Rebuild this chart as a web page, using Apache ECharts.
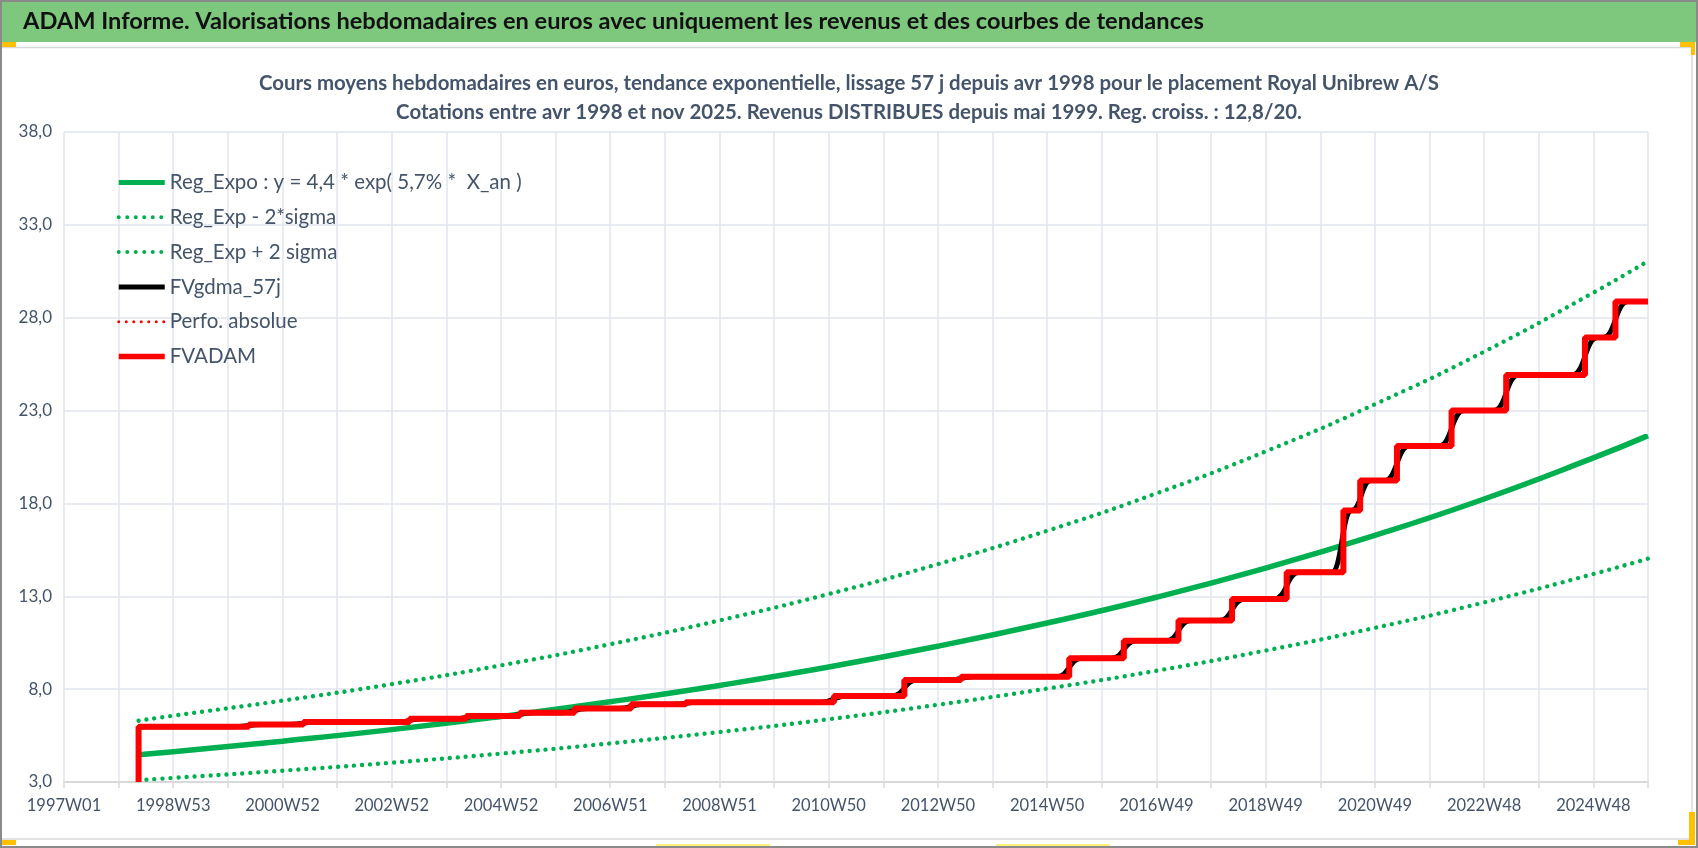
<!DOCTYPE html>
<html><head><meta charset="utf-8">
<script src="https://cdn.jsdelivr.net/npm/echarts/dist/echarts.min.js"></script>
<style>html,body{margin:0;padding:0;background:#fff;overflow:hidden}#c{width:1698px;height:848px}</style>
</head><body><div id="c"></div>
<script>
// ---- tick labels (every 104 weeks, index = weeks since 1997W01) ----
const xTickLabels = ['1997W01','1998W53','2000W52','2002W52','2004W52','2006W51','2008W51','2010W50','2012W50','2014W50','2016W49','2018W49','2020W49','2022W48','2024W48'];
const lastWeek = 1508;
const yTicks = [3, 8, 13, 18, 23, 28, 33, 38];

// ---- trend curves, read at anchor weeks ----
const trendWeeks = [71, 104, 208, 312, 416, 520, 624, 728, 832, 936, 1040, 1144, 1248, 1352, 1456, 1508];
const regExpo    = [4.47, 4.63, 5.2, 5.82, 6.53, 7.32, 8.2, 9.19, 10.31, 11.56, 12.95, 14.52, 16.28, 18.24, 20.45, 21.65];
const regExpLow  = [3.1, 3.22, 3.61, 4.04, 4.53, 5.08, 5.69, 6.38, 7.16, 8.03, 8.99, 10.08, 11.3, 12.67, 14.2, 15.03];
const regExpHigh = [6.3, 6.57, 7.38, 8.27, 9.28, 10.42, 11.7, 13.12, 14.73, 16.53, 18.54, 20.8, 23.34, 26.17, 29.35, 31.05];

// ---- FVADAM steps: week of change and level after change ----
const redBase = 3.0;
const redWeeks  = [71, 176, 228, 329, 383, 434, 486, 540, 592, 733, 800, 854, 957, 1009, 1061, 1112, 1164, 1218, 1234, 1269, 1321, 1373, 1448, 1477];
const redLevels = [5.98, 6.1, 6.23, 6.4, 6.55, 6.73, 6.96, 7.18, 7.3, 7.63, 8.49, 8.67, 9.66, 10.6, 11.69, 12.85, 14.29, 17.62, 19.23, 21.09, 23.0, 24.92, 26.93, 28.87];
// ---- FVgdma_57j: weeks where the smoothed curve leaves the old level and reaches the new one ----
const blackRampStart = [164, 216, 317, 371, 422, 474, 528, 580, 721, 788, 842, 945, 997, 1049, 1100, 1152, 1207, 1226, 1257, 1309, 1361, 1436, 1465];
const blackRampEnd   = [188, 240, 341, 395, 446, 498, 552, 604, 745, 812, 866, 969, 1021, 1073, 1124, 1176, 1226, 1244, 1281, 1333, 1385, 1460, 1489];

const perfoAbsolue = [];

function pairs(xs, ys) { return xs.map((x, i) => [x, ys[i]]); }
const redData = [[redWeeks[0], redBase]];
for (let i = 0; i < redWeeks.length; i++) {
  if (i > 0) redData.push([redWeeks[i], redLevels[i - 1]]);
  redData.push([redWeeks[i], redLevels[i]]);
}
redData.push([lastWeek, redLevels[redLevels.length - 1]]);

const blackData = [[redWeeks[0], redLevels[0]]];
for (let i = 1; i < redWeeks.length; i++) {
  blackData.push([blackRampStart[i - 1], redLevels[i - 1]]);
  blackData.push([blackRampEnd[i - 1], redLevels[i]]);
}
blackData.push([lastWeek, redLevels[redLevels.length - 1]]);

const FONT = 'Lato';
const TXT = '#44546A';
const GREEN = '#00B050';
const DOTS = [0.001, 8];
const hideSym = { opacity: 0, color: 'rgba(0,0,0,0)', borderWidth: 0 };

const chart = echarts.init(document.getElementById('c'), null, { renderer: 'canvas' });
chart.setOption({
  animation: false,
  backgroundColor: '#ffffff',
  textStyle: { fontFamily: FONT },
  grid: { left: 64, right: 50, top: 132, bottom: 66, containLabel: false, outerBoundsMode: 'none' },
  graphic: [
    { type: 'rect', z: -10, shape: { x: 0, y: 0, width: 1698, height: 42 }, style: { fill: '#7DC87D' } },
    { type: 'line', z: -9, shape: { x1: 0, y1: 47.5, x2: 1692, y2: 47.5 }, style: { stroke: '#d9d9d9', lineWidth: 1.5 } },
    { type: 'line', z: -9, shape: { x1: 1692, y1: 47, x2: 1692, y2: 839 }, style: { stroke: '#d9d9d9', lineWidth: 1.5 } },
    { type: 'line', z: -9, shape: { x1: 0, y1: 839, x2: 1692, y2: 839 }, style: { stroke: '#d9d9d9', lineWidth: 1.5 } },
    { type: 'rect', z: -8, shape: { x: 0, y: 42, width: 16, height: 5 }, style: { fill: '#FFC000' } },
    { type: 'rect', z: -8, shape: { x: 1680, y: 42, width: 15, height: 5 }, style: { fill: '#FFC000' } },
    { type: 'rect', z: -8, shape: { x: 1691, y: 42, width: 4, height: 13 }, style: { fill: '#FFC000' } },
    { type: 'rect', z: -8, shape: { x: 0, y: 840, width: 16, height: 5 }, style: { fill: '#FFC000' } },
    { type: 'rect', z: -8, shape: { x: 1678, y: 840, width: 17, height: 5 }, style: { fill: '#FFC000' } },
    { type: 'rect', z: -8, shape: { x: 1689, y: 812, width: 6, height: 33 }, style: { fill: '#FFC000' } },
    { type: 'line', z: -8, shape: { x1: 656, y1: 845, x2: 770, y2: 845 }, style: { stroke: '#FFF27A', lineWidth: 2 } },
    { type: 'line', z: -8, shape: { x1: 996, y1: 845, x2: 1110, y2: 845 }, style: { stroke: '#FFF27A', lineWidth: 2 } },
    { type: 'rect', z: 50, shape: { x: 1, y: 1, width: 1696, height: 846 }, style: { fill: 'none', stroke: '#8a8a8a', lineWidth: 2 } },
    { type: 'text', z: 20, left: 23, top: 9, style: { text: 'ADAM Informe. Valorisations hebdomadaires en euros avec uniquement les revenus et des courbes de tendances', font: 'bold 23.6px ' + FONT, fill: '#111111' } },
    { type: 'text', z: 20, left: 'center', top: 73, style: { text: 'Cours moyens hebdomadaires en euros, tendance exponentielle, lissage 57 j depuis avr 1998 pour le placement Royal Unibrew A/S', font: 'bold 20.4px ' + FONT, fill: TXT } },
    { type: 'text', z: 20, left: 'center', top: 102, style: { text: 'Cotations entre avr 1998 et nov 2025. Revenus DISTRIBUES depuis mai 1999. Reg. croiss. : 12,8/20.', font: 'bold 20.4px ' + FONT, fill: TXT } }
  ],
  legend: {
    orient: 'vertical', left: 111, top: 167,
    itemWidth: 46, itemHeight: 20, itemGap: 13.8,
    itemStyle: hideSym,
    textStyle: { fontFamily: FONT, fontSize: 20.5, color: TXT, lineHeight: 20 },
    data: [
      { name: 'Reg_Expo : y = 4,4 * exp( 5,7% *  X_an )', itemStyle: hideSym, lineStyle: { width: 5 } },
      { name: 'Reg_Exp - 2*sigma', itemStyle: hideSym, lineStyle: { width: 4, type: [0.001, 8.5], cap: 'round' } },
      { name: 'Reg_Exp + 2 sigma', itemStyle: hideSym, lineStyle: { width: 4, type: [0.001, 8.5], cap: 'round' } },
      { name: 'FVgdma_57j', itemStyle: hideSym, lineStyle: { width: 5 } },
      { name: 'Perfo. absolue', itemStyle: hideSym, lineStyle: { width: 3, type: [0.001, 7.5], cap: 'round' } },
      { name: 'FVADAM', itemStyle: hideSym, lineStyle: { width: 5.5 } }
    ]
  },
  xAxis: {
    type: 'value', min: 0, max: lastWeek, interval: 52,
    axisLine: { show: true, lineStyle: { color: '#d9d9d9', width: 2 } },
    axisTick: { show: true, length: 6, lineStyle: { color: '#d9d9d9', width: 1.5 } },
    splitLine: { show: true, lineStyle: { color: '#e1e4ec', width: 1.5 } },
    axisLabel: {
      margin: 15, fontFamily: FONT, fontSize: 16.5, color: TXT, showMinLabel: true, showMaxLabel: true, hideOverlap: false,
      formatter: v => (v % 104 === 0 && xTickLabels[v / 104]) ? xTickLabels[v / 104] : ''
    }
  },
  yAxis: {
    type: 'value', min: yTicks[0], max: yTicks[yTicks.length - 1], interval: 5,
    axisLine: { show: false }, axisTick: { show: false },
    splitLine: { show: true, lineStyle: { color: '#e1e4ec', width: 1.5 } },
    axisLabel: { margin: 12, fontFamily: FONT, fontSize: 17, color: TXT, formatter: v => v.toFixed(1).replace('.', ',') }
  },
  series: [
    { name: 'Reg_Expo : y = 4,4 * exp( 5,7% *  X_an )', type: 'line', data: pairs(trendWeeks, regExpo), smooth: true, symbol: 'none', z: 3,
      lineStyle: { color: GREEN, width: 5.5 }, itemStyle: { color: GREEN } },
    { name: 'Reg_Exp - 2*sigma', type: 'line', data: pairs(trendWeeks, regExpLow), smooth: true, symbol: 'none', z: 3,
      lineStyle: { color: GREEN, width: 4.4, type: DOTS, cap: 'round' }, itemStyle: { color: GREEN } },
    { name: 'Reg_Exp + 2 sigma', type: 'line', data: pairs(trendWeeks, regExpHigh), smooth: true, symbol: 'none', z: 3,
      lineStyle: { color: GREEN, width: 4.4, type: DOTS, cap: 'round' }, itemStyle: { color: GREEN } },
    { name: 'FVgdma_57j', type: 'line', data: blackData, smooth: 0.5, smoothMonotone: 'x', symbol: 'none', z: 4,
      lineStyle: { color: '#000000', width: 5 }, itemStyle: { color: '#000000' } },
    { name: 'Perfo. absolue', type: 'line', data: perfoAbsolue, symbol: 'none', z: 4,
      lineStyle: { color: '#FF0000', width: 3, type: [0.001, 7.5], cap: 'round' }, itemStyle: { color: '#FF0000' } },
    { name: 'FVADAM', type: 'line', data: redData, symbol: 'none', z: 5,
      lineStyle: { color: '#FF0000', width: 6 }, itemStyle: { color: '#FF0000' } }
  ]
});
</script></body></html>
